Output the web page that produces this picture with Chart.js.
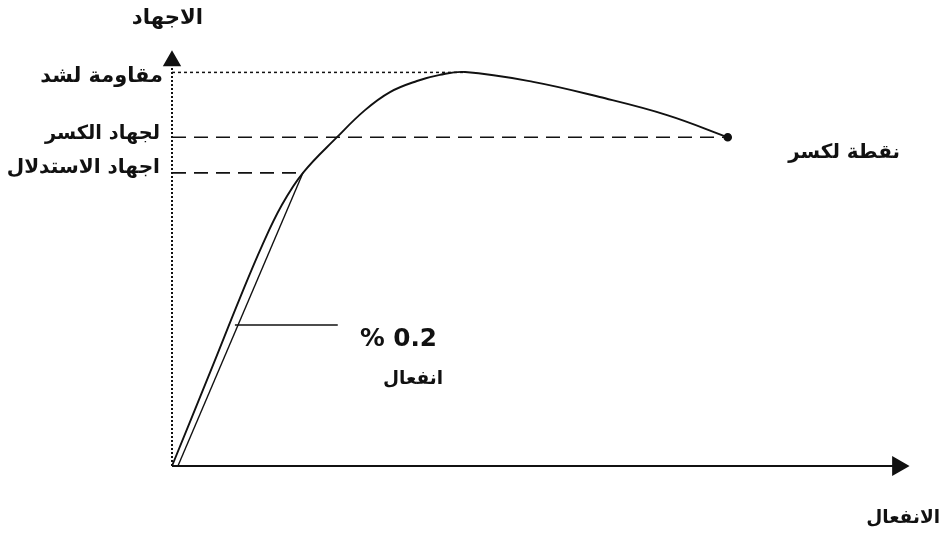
<!DOCTYPE html>
<html>
<head>
<meta charset="utf-8">
<script src="https://cdn.jsdelivr.net/npm/chart.js@4.4.1/dist/chart.umd.min.js"></script>
<style>
  html, body { margin: 0; padding: 0; background: #fff; }
  #wrap { width: 942px; height: 537px; }
</style>
</head>
<body>
<div id="wrap"><canvas id="c"></canvas></div>
<script>
// strain (x, 0-100) and stress (y, 0-100)
const curveStrain = [0, 5.54, 9.19, 12.16, 14.86, 17.7, 22.3, 26.08, 29.46, 33.1, 36.2, 39.6, 48.8, 57.8, 66.9, 75.1];
const curveStress = [0, 24.6, 41.0, 53.7, 63.7, 71.5, 80.2, 86.8, 91.2, 93.9, 95.4, 96.1, 93.7, 90.0, 85.6, 80.2];

const offsetStrain = [0.8, 17.7];   // 0.2 % offset line
const offsetStress = [0, 71.5];

const tensileStress = 96.0;   // مقاومة لشد
const fractureStress = 80.2;  // لجهاد الكسر
const yieldStress = 71.5;     // اجهاد الاستدلال
const tensileStrain = 39.6;
const fractureStrain = 75.1;
const yieldStrain = 17.7;

const noteStrain = [8.5, 22.4];   // pointer to the offset line
const noteStress = 34.4;

const INK = '#111';
const pts = (xs, ys) => xs.map((x, i) => ({ x, y: ys[i] }));
const hline = (y, x1) => [{ x: 0, y }, { x: x1, y }];

function seg(data, extra) {
  return Object.assign({
    data, showLine: true, borderColor: INK, backgroundColor: INK,
    borderWidth: 1.6, pointRadius: 0, tension: 0, clip: false,
  }, extra);
}

// text labels, drawn after the chart
const labelPlugin = {
  id: 'labels',
  afterDraw(chart) {
    const ctx = chart.ctx;
    const items = [
      { t: 'الاجهاد', x: 203, y: 18, w: 71, dir: 'rtl' },
      { t: 'مقاومة لشد', x: 163, y: 77, w: 123, dir: 'rtl' },
      { t: 'لجهاد الكسر', x: 160, y: 134, w: 115, dir: 'rtl' },
      { t: 'اجهاد الاستدلال', x: 160, y: 168, w: 153, dir: 'rtl' },
      { t: 'نقطة لكسر', x: 900, y: 153, w: 112, dir: 'rtl' },
      { t: '% 0.2', x: 437, y: 340, w: 77, dir: 'ltr' },
      { t: 'انفعال', x: 443, y: 379, w: 60, dir: 'rtl' },
      { t: 'الانفعال', x: 940, y: 518, w: 74, dir: 'rtl' },
    ];
    ctx.save();
    ctx.fillStyle = INK;
    ctx.textBaseline = 'middle';
    ctx.textAlign = 'right';
    items.forEach(it => {
      ctx.direction = it.dir;
      ctx.font = 'bold 20px "DejaVu Sans", sans-serif';
      const m = ctx.measureText(it.t).width;
      const size = Math.max(10, Math.min(26, 20 * it.w / m));
      ctx.font = `bold ${size.toFixed(1)}px "DejaVu Sans", sans-serif`;
      ctx.fillText(it.t, it.x, it.y);
    });
    ctx.restore();
  },
};

new Chart(document.getElementById('c'), {
  type: 'scatter',
  data: {
    datasets: [
      // axes
      seg([{ x: 0, y: 0 }, { x: 0, y: 97.1 }], { borderDash: [2, 2], borderWidth: 2 }),
      seg([{ x: 0, y: 0 }, { x: 97.7, y: 0 }], { borderWidth: 2 }),
      seg([{ x: 0, y: 98.8 }], { pointStyle: 'triangle', pointRadius: 9, rotation: 0, showLine: false }),
      seg([{ x: 98.1, y: 0 }], { pointStyle: 'triangle', pointRadius: 10, rotation: 90, showLine: false }),
      // reference levels
      seg(hline(tensileStress, tensileStrain), { borderDash: [3, 3], borderWidth: 1.5 }),
      seg(hline(fractureStress, fractureStrain), { borderDash: [14, 8], borderWidth: 1.6 }),
      seg(hline(yieldStress, yieldStrain), { borderDash: [14, 8], borderWidth: 1.6 }),
      // offset line and pointer
      seg(pts(offsetStrain, offsetStress), { borderWidth: 1.4 }),
      seg(pts(noteStrain, [noteStress, noteStress]), { borderWidth: 1.6 }),
      // stress-strain curve
      seg(pts(curveStrain, curveStress), { borderWidth: 1.9, tension: 0.4 }),
      // fracture point
      seg([{ x: fractureStrain, y: fractureStress }], { pointRadius: 3.5, showLine: false }),
    ],
  },
  options: {
    animation: false,
    responsive: true,
    maintainAspectRatio: false,
    layout: { padding: { left: 172, right: 30, top: 56, bottom: 71 } },
    scales: {
      x: { type: 'linear', min: 0, max: 100, display: false },
      y: { type: 'linear', min: 0, max: 100, display: false },
    },
    plugins: {
      legend: { display: false },
      tooltip: { enabled: false },
    },
  },
  plugins: [labelPlugin],
});
</script>
</body>
</html>
